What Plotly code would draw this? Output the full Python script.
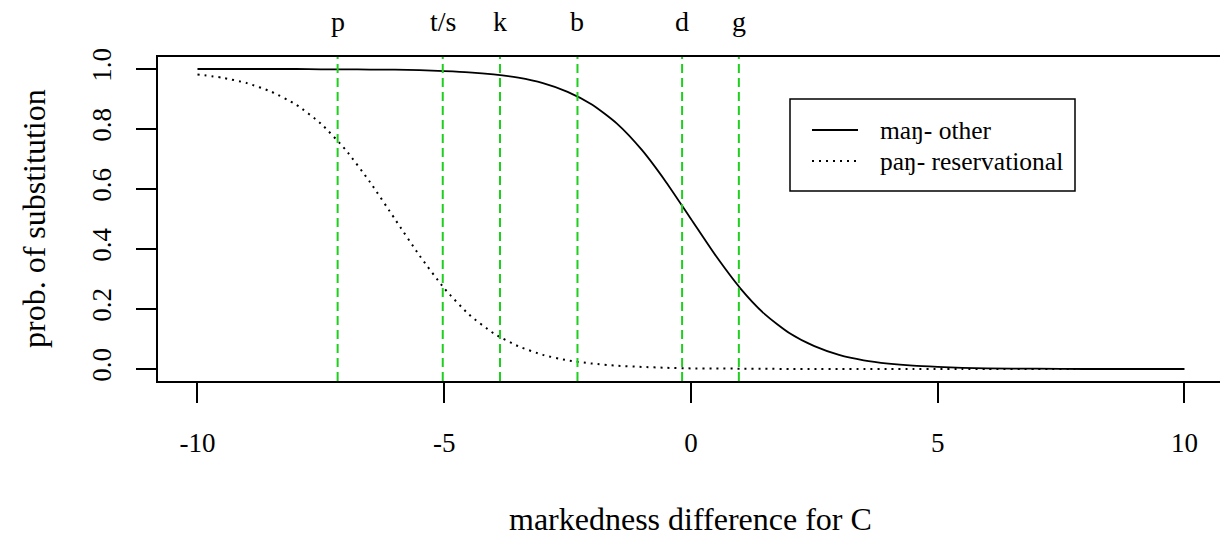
import plotly.graph_objects as go

# ---- data ----
x_vals = [-10, -9.5, -9, -8.5, -8, -7.5, -7, -6.5, -6, -5.5, -5, -4.5, -4, -3.5,
          -3, -2.5, -2, -1.5, -1, -0.5, 0, 0.5, 1, 1.5, 2, 2.5, 3, 3.5, 4, 4.5,
          5, 5.5, 6, 7, 8, 9, 10]
man_other = [1.000, 1.000, 1.000, 1.000, 1.000, 0.999, 0.999, 0.998, 0.998, 0.996,
             0.993, 0.989, 0.982, 0.971, 0.953, 0.924, 0.881, 0.818, 0.731, 0.622,
             0.500, 0.378, 0.269, 0.182, 0.119, 0.076, 0.047, 0.029, 0.018, 0.011,
             0.007, 0.004, 0.002, 0.001, 0.000, 0.000, 0.000]
pan_reservational = [0.982, 0.971, 0.953, 0.924, 0.881, 0.818, 0.731, 0.622, 0.500, 0.378,
                     0.269, 0.182, 0.119, 0.076, 0.047, 0.029, 0.018, 0.011, 0.007, 0.004,
                     0.002, 0.002, 0.001, 0.001, 0.000, 0.000, 0.000, 0.000, 0.000, 0.000,
                     0.000, 0.000, 0.000, 0.000, 0.000, 0.000, 0.000]
consonants = ["p", "t/s", "k", "b", "d", "g"]
consonant_pos = [-7.16, -5.03, -3.87, -2.30, -0.18, 0.97]
x_ticks = [-10, -5, 0, 5, 10]
x_tick_text = ["-10", "-5", "0", "5", "10"]
y_ticks = [0.0, 0.2, 0.4, 0.6, 0.8, 1.0]
y_tick_text = ["0.0", "0.2", "0.4", "0.6", "0.8", "1.0"]
series_names = ["maŋ- other", "paŋ- reservational"]

FONT = "Liberation Serif, Times New Roman, serif"
W, H = 1220, 537
L, R, T, B = 158, 0, 57, 156
PW, PH = W - L - R, H - T - B


def px_x(p):
    return (p - L) / PW


def px_y(p):
    return (H - B - p) / PH


fig = go.Figure()
fig.add_trace(go.Scatter(x=x_vals, y=man_other, mode="lines", name=series_names[0],
                         line=dict(color="black", width=1.8, shape="spline", smoothing=0.6),
                         showlegend=False))
fig.add_trace(go.Scatter(x=x_vals, y=pan_reservational, mode="lines", name=series_names[1],
                         line=dict(color="black", width=2, dash="2px,5px", shape="spline",
                                   smoothing=0.6),
                         showlegend=False))

for lab, pos in zip(consonants, consonant_pos):
    fig.add_vline(x=pos, line=dict(color="#1ed01e", width=2, dash="9px,5px"))
    fig.add_annotation(x=pos, xref="x", y=px_y(22), yref="paper", text=lab,
                       showarrow=False, xanchor="center", yanchor="middle",
                       font=dict(family=FONT, size=28, color="black"))

# legend box (drawn manually to mimic R legend)
fig.add_shape(type="rect", xref="paper", yref="paper",
              x0=px_x(790), x1=px_x(1075), y0=px_y(191), y1=px_y(99),
              line=dict(color="black", width=1.5), fillcolor="white", layer="above")
for i, (yy, dash) in enumerate([(130, "solid"), (161, "2px,5px")]):
    fig.add_shape(type="line", xref="paper", yref="paper",
                  x0=px_x(812), x1=px_x(858), y0=px_y(yy), y1=px_y(yy),
                  line=dict(color="black", width=2, dash=dash), layer="above")
    fig.add_annotation(x=px_x(878), y=px_y(yy), xref="paper", yref="paper",
                       text=series_names[i], showarrow=False, xanchor="left",
                       yanchor="middle", font=dict(family=FONT, size=25.5, color="black"))

# axis titles
fig.add_annotation(x=0, xref="x", y=px_y(519), yref="paper",
                   text="markedness difference for C", showarrow=False,
                   xanchor="center", yanchor="middle",
                   font=dict(family=FONT, size=32, color="black"))
fig.add_annotation(x=px_x(34), xref="paper", y=0.5, yref="paper",
                   text="prob. of substitution", showarrow=False, textangle=-90,
                   xanchor="center", yanchor="middle",
                   font=dict(family=FONT, size=32, color="black"))

x0_range = -10.8
x1_range = x0_range + PW / 49.35
fig.update_layout(
    width=W, height=H,
    margin=dict(l=L, r=R, t=T, b=B, pad=0),
    plot_bgcolor="white", paper_bgcolor="white",
    font=dict(family=FONT, size=27, color="black"),
    showlegend=False,
    xaxis=dict(range=[x0_range, x1_range], tickmode="array", tickvals=x_ticks,
               ticktext=x_tick_text, ticks="outside", ticklen=20, tickwidth=1.5,
               tickcolor="black", showline=True, linecolor="black", linewidth=2,
               mirror=True, showgrid=False, zeroline=False, ticklabelstandoff=17,
               tickfont=dict(family=FONT, size=27, color="black")),
    yaxis=dict(range=[-0.04, 1.04], tickmode="array", tickvals=y_ticks,
               ticktext=y_tick_text, ticks="outside", ticklen=20, tickwidth=1.5,
               tickcolor="black", showline=True, linecolor="black", linewidth=2,
               mirror=False, showgrid=False, zeroline=False, tickangle=-90,
               ticklabelstandoff=14,
               tickfont=dict(family=FONT, size=27, color="black")),
)

fig.write_html("out.html", config={"displayModeBar": False},
               post_script="document.body.style.margin='0px';document.body.style.overflow='hidden';")
